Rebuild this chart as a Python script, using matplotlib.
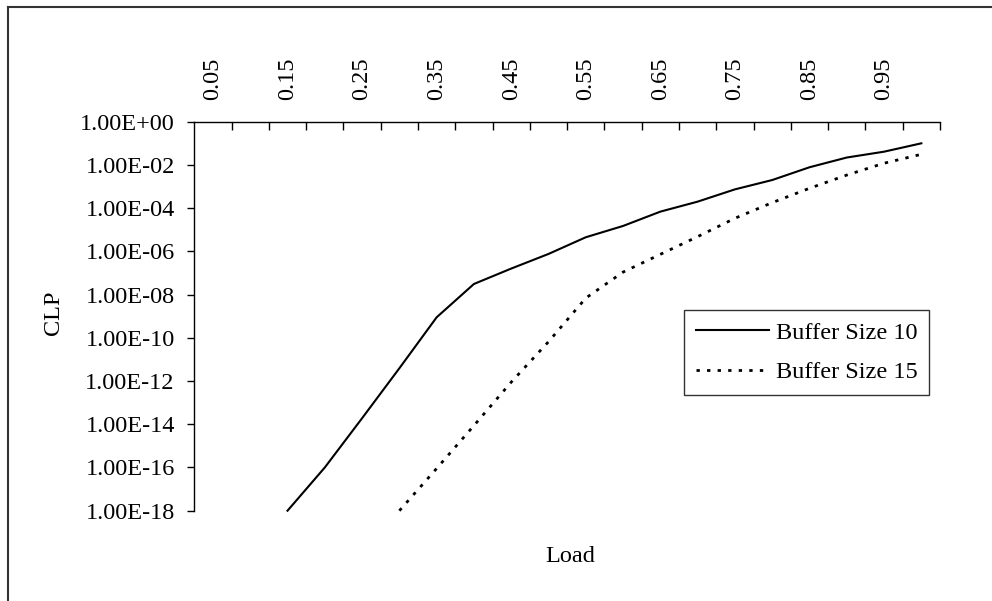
import numpy as np
import matplotlib
matplotlib.use("Agg")
import matplotlib.pyplot as plt
from matplotlib.ticker import FixedLocator, FuncFormatter, NullFormatter
from matplotlib.lines import Line2D

loads = ["0.05", "0.10", "0.15", "0.20", "0.25", "0.30", "0.35", "0.40", "0.45", "0.50",
         "0.55", "0.60", "0.65", "0.70", "0.75", "0.80", "0.85", "0.90", "0.95", "1.00"]
buffer10 = [np.nan, np.nan, 1.0e-18, 1.0e-16, 1.9e-14, 3.9e-12, 8.9e-10, 3.1e-8, 1.6e-7, 7.6e-7,
            4.5e-6, 1.5e-5, 6.9e-5, 2.0e-4, 7.4e-4, 2.0e-3, 7.8e-3, 2.2e-2, 4.1e-2, 1.0e-1]
buffer15 = [np.nan, np.nan, np.nan, np.nan, np.nan, 1.0e-18, 9.0e-17, 8.7e-15, 8.9e-13, 6.6e-11,
            6.9e-9, 1.1e-7, 7.3e-7, 4.8e-6, 3.4e-5, 1.8e-4, 8.3e-4, 3.4e-3, 1.2e-2, 3.1e-2]
ytick_vals = [1e0, 1e-2, 1e-4, 1e-6, 1e-8, 1e-10, 1e-12, 1e-14, 1e-16, 1e-18]

plt.rcParams['font.family'] = ['Liberation Serif', 'DejaVu Serif']
FS = 17.5

fig = plt.figure(figsize=(9.92, 6.01), dpi=100)
ax = fig.add_axes([194.3 / 992, 1 - 510.7 / 601, (940 - 194.3) / 992, (510.7 - 121.7) / 601])

x = np.arange(len(loads))
ax.plot(x, buffer10, color='black', lw=1.5, solid_joinstyle='round', label='Buffer Size 10', clip_on=False)
ax.plot(x, buffer15, color='black', lw=2.0, linestyle=(0, (1.2, 2.6)), label='Buffer Size 15', clip_on=False)

ax.set_yscale('log')
ax.set_ylim(1e-18, 1e0)
ax.set_xlim(-0.5, len(loads) - 0.5)

# y axis
ax.yaxis.set_major_locator(FixedLocator(ytick_vals))
ax.yaxis.set_minor_locator(FixedLocator([]))
ax.yaxis.set_major_formatter(FuncFormatter(lambda v, p: f"{v:.2E}"))
ax.tick_params(axis='y', which='major', direction='out', length=5, width=1.0,
               labelsize=FS, pad=9, colors='black')

# x axis on top, categories
ax.xaxis.tick_top()
ax.xaxis.set_label_position('bottom')
ax.xaxis.set_major_locator(FixedLocator(np.arange(0.5, len(loads), 1.0)))
ax.xaxis.set_major_formatter(NullFormatter())
ax.xaxis.set_minor_locator(FixedLocator(x[::2]))
ax.xaxis.set_minor_formatter(FuncFormatter(lambda v, p: loads[int(round(v))]))
ax.tick_params(axis='x', which='major', direction='in', length=6, width=1.0, top=True, bottom=False)
ax.tick_params(axis='x', which='minor', length=0, top=True, bottom=False, labeltop=True,
               labelbottom=False, labelsize=FS, pad=15.8, labelrotation=90)

for s in ['bottom', 'right']:
    ax.spines[s].set_visible(False)
for s in ['top', 'left']:
    ax.spines[s].set_linewidth(1.0)
    ax.spines[s].set_color('black')

ax.set_ylabel('CLP', fontsize=FS, labelpad=0)
ax.yaxis.set_label_coords((53 - 194.3) / 745.7, (510.7 - 313) / 389, transform=ax.transAxes)
ax.yaxis.label.set_verticalalignment('center')
ax.set_xlabel('Load', fontsize=FS)
ax.xaxis.set_label_coords((570 - 194.3) / 745.7, -(557 - 510.7) / 389)
ax.xaxis.label.set_verticalalignment('center')

leg = ax.legend(loc='upper left', bbox_to_anchor=((684 - 194.3) / 745.7, (510.7 - 310) / 389),
                fontsize=FS, frameon=True, fancybox=False, edgecolor='black',
                handlelength=3.0, handletextpad=0.3, labelspacing=0.72, borderpad=0.48,
                borderaxespad=0)
leg.get_frame().set_linewidth(1.0)

# chart border (partially outside the image)
fig.add_artist(Line2D([8 / 992, 1.0], [1 - 7 / 601, 1 - 7 / 601], transform=fig.transFigure,
                      color='#333333', lw=1.5))
fig.add_artist(Line2D([8 / 992, 8 / 992], [0.0, 1 - 7 / 601], transform=fig.transFigure,
                      color='#333333', lw=1.5))

fig.savefig('out.png', dpi=100)
